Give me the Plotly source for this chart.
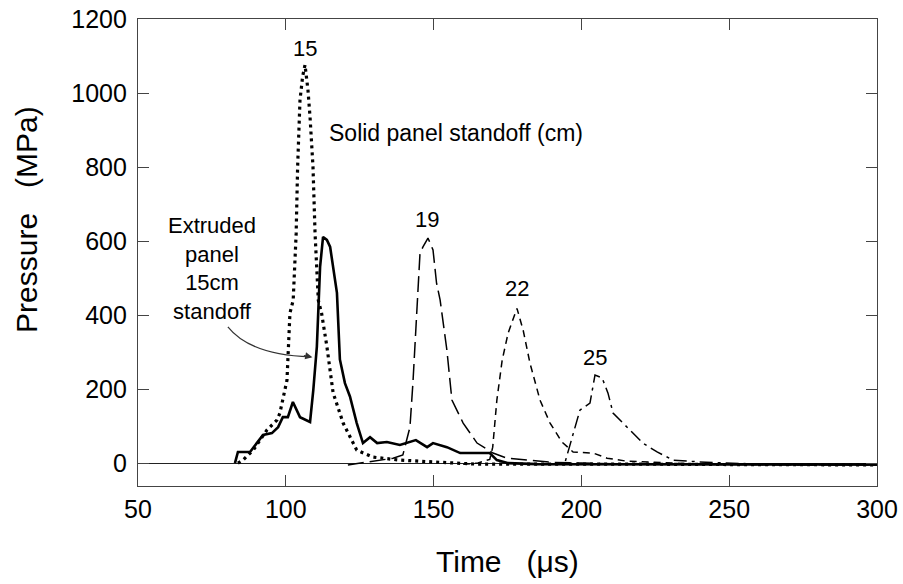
import plotly.graph_objects as go

# Extruded panel, 15 cm standoff (solid)
t_ext = [82.8, 83.8, 87.9, 90.2, 92.3, 95.3, 97.4, 99.0, 100.7, 102.4, 104.8, 108.2, 109.3, 110.5,
         111.6, 112.6, 113.9, 115.0, 116.0, 117.3, 118.3, 120.0, 121.7, 124.0, 126.1, 128.5, 130.9,
         134.2, 138.6, 142.0, 144.0, 147.8, 149.8, 154.5, 159.0, 163.4, 169.0, 171.4, 175.0, 185.0,
         200.0, 220.0, 240.0, 260.0, 280.0, 300.0]
p_ext = [0, 30, 30, 54, 76, 81, 97, 124, 124, 165, 124, 111, 197, 314,
         530, 611, 603, 584, 530, 460, 280, 216, 180, 108, 54, 70, 54,
         57, 49, 57, 62, 43, 54, 43, 27, 27, 27, 8, 0, -3,
         -3, -5, -3, -5, -4, -4]

# Solid panel standoffs
t_15 = [83.8, 85.5, 89.0, 93.6, 97.0, 98.0, 100.4, 101.4, 102.5, 103.5, 104.0, 104.8, 105.7, 106.5,
        107.5, 108.2, 109.2, 109.9, 111.0, 112.1, 113.9, 116.0, 119.4, 124.0, 129.5, 138.6, 150.0,
        165.0, 180.0, 200.0, 220.0, 250.0, 280.0, 300.0]
p_15 = [0, 8, 35, 89, 116, 135, 224, 405, 440, 620, 800, 981, 1045, 1076,
        1008, 935, 800, 620, 440, 405, 315, 190, 108, 35, 16, 8, 3,
        -3, -3, -4, -3, -4, -5, -5]

t_19 = [121.0, 128.5, 136.3, 139.6, 141.3, 142.0, 143.0, 144.3, 145.4, 146.4, 148.1, 149.8, 151.0,
        152.2, 154.5, 156.2, 160.0, 164.7, 170.1, 174.8, 182.6, 190.0, 200.0, 220.0, 250.0, 280.0, 300.0]
p_19 = [-5, 3, 13, 22, 70, 97, 216, 395, 567, 584, 608, 576, 486,
        441, 305, 170, 108, 54, 27, 13, 8, 2, 0, -3, -4, -5, -5]

t_22 = [160.0, 165.0, 169.0, 170.0, 171.4, 173.2, 175.2, 178.2, 180.3, 182.6, 186.0, 189.4, 193.4,
        197.2, 204.0, 208.7, 215.4, 225.0, 240.0, 260.0, 280.0, 300.0]
p_22 = [-3, 0, 10, 43, 170, 278, 351, 418, 359, 270, 170, 108, 57,
        30, 27, 13, 5, 2, -3, -4, -5, -5]

t_25 = [180.0, 190.0, 194.5, 196.1, 199.5, 202.9, 204.6, 207.0, 209.0, 210.7, 215.4, 220.8, 225.6,
        231.0, 240.0, 260.0, 280.0, 300.0]
p_25 = [-3, -3, 3, 49, 143, 162, 238, 230, 189, 135, 97, 54, 30,
        8, 3, -3, -5, -5]

x_ticks = [50, 100, 150, 200, 250, 300]
y_ticks = [0, 200, 400, 600, 800, 1000, 1200]

FONT = "Liberation Sans, Arial, Helvetica, sans-serif"

fig = go.Figure()
fig.add_trace(go.Scatter(x=t_ext, y=p_ext, mode="lines", name="Extruded 15 cm",
                         line=dict(color="black", width=2.6)))
fig.add_trace(go.Scatter(x=t_15, y=p_15, mode="lines", name="15",
                         line=dict(color="black", width=3.2, dash="3px,4px")))
fig.add_trace(go.Scatter(x=t_19, y=p_19, mode="lines", name="19",
                         line=dict(color="black", width=1.5, dash="16px,6px")))
fig.add_trace(go.Scatter(x=t_22, y=p_22, mode="lines", name="22",
                         line=dict(color="black", width=1.5, dash="7px,5px")))
fig.add_trace(go.Scatter(x=t_25, y=p_25, mode="lines", name="25",
                         line=dict(color="black", width=1.5, dash="13px,5px,3px,5px")))

labels = [("15", 106.5, 1119), ("19", 147.8, 657), ("22", 178.2, 473), ("25", 204.6, 284)]
for txt, lx, ly in labels:
    fig.add_annotation(x=lx, y=ly, text=txt, showarrow=False,
                       font=dict(size=22, color="black", family=FONT))

fig.add_annotation(x=114, y=892, text="Solid panel standoff (cm)", showarrow=False,
                   xanchor="left", font=dict(size=23, color="black", family=FONT))
fig.add_annotation(x=75, y=527, text="Extruded<br>panel<br>15cm<br>standoff", showarrow=False,
                   align="center", font=dict(size=22, color="black", family=FONT))

# curved pointer
fig.add_shape(type="path", path="M 80.4,368 Q 88,292 108.3,287", xref="x", yref="y",
              line=dict(color="#333", width=1.2))
fig.add_annotation(x=109.0, y=286, ax=-10, ay=-2, axref="pixel", ayref="pixel",
                   text="", showarrow=True, arrowhead=2, arrowsize=1.2, arrowwidth=1.2,
                   arrowcolor="#333")

# axis titles (placed as in the original)
fig.add_annotation(xref="paper", yref="paper", x=-0.150, y=0.57, xanchor="center", yanchor="middle",
                   text="Pressure\u00a0\u00a0\u00a0(MPa)", textangle=-90, showarrow=False,
                   font=dict(size=30, color="black", family=FONT))
fig.add_annotation(xref="paper", yref="paper", x=0.5, y=-0.162, xanchor="center", yanchor="middle",
                   text="Time\u00a0\u00a0\u00a0(\u03bcs)", showarrow=False,
                   font=dict(size=30, color="black", family=FONT))

fig.update_layout(
    width=903, height=584,
    margin=dict(l=138, r=26, t=19, b=98),
    paper_bgcolor="white", plot_bgcolor="white",
    showlegend=False,
    font=dict(family=FONT, color="black"),
)
fig.update_xaxes(range=[50, 300], tickvals=x_ticks, ticks="inside", ticklen=11,
                 tickcolor="#444", showline=True, linecolor="#444", linewidth=1.2, mirror="ticks",
                 showgrid=False, zeroline=False, tickfont=dict(size=25),
                 ticklabelstandoff=1, automargin=False, ticklabeloverflow="allow")
fig.update_yaxes(range=[-62, 1200], tickvals=y_ticks, ticks="inside", ticklen=11,
                 tickcolor="#444", showline=True, linecolor="#444", linewidth=1.2, mirror="ticks",
                 showgrid=False, zeroline=True, zerolinecolor="#222", zerolinewidth=1,
                 tickfont=dict(size=25), ticklabelstandoff=5, automargin=False,
                 ticklabeloverflow="allow")

# remove the default 8px page margin so the figure sits at the window's corner
fig.write_html("out.html", config={"displayModeBar": False},
               post_script="document.body.style.margin='0';")
